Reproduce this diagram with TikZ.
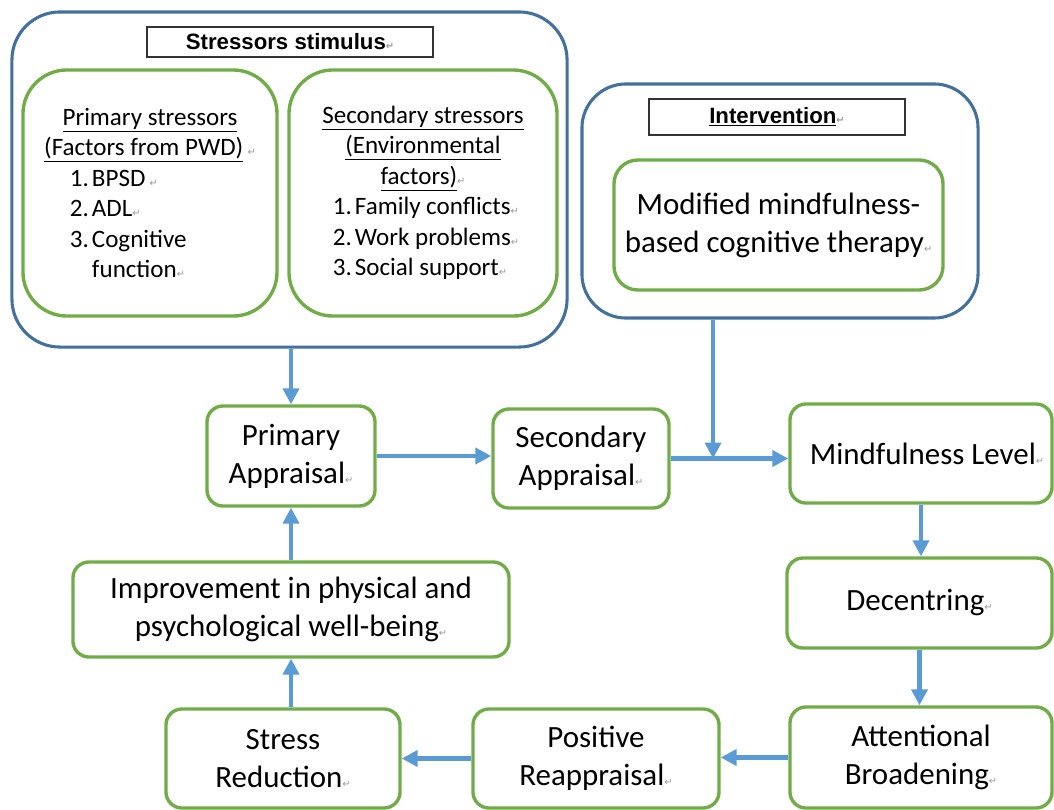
\documentclass[tikz,border=0pt]{standalone}
\usepackage{fontspec}
\setmainfont{Carlito}
\newfontfamily\titlefont{Liberation Sans}
\newfontfamily\symfont{DejaVu Sans}
\usepackage{xcolor}
\usetikzlibrary{arrows.meta,positioning,calc}
\definecolor{grpline}{HTML}{41719C}
\definecolor{boxline}{HTML}{70AD47}
\definecolor{arrline}{HTML}{5B9BD5}
\newcommand{\ret}{{\symfont\fontsize{7}{7}\selectfont\color{gray!80}\symbol{"21B5}}}
\newcommand{\num}[1]{\makebox[0.55cm][l]{#1}}
\tikzset{
  mgroup/.style={draw=grpline,fill=white,line width=2.2pt,rounded corners=1.2cm,inner sep=0pt},
  mbox/.style={draw=boxline,fill=white,line width=2.4pt,rounded corners=0.4cm,align=center,inner sep=2pt},
  mtitle/.style={draw=black!80,fill=white,line width=0.9pt,inner sep=0pt,font=\titlefont\bfseries\fontsize{15.8}{18}\selectfont},
  mlist/.style={font=\fontsize{17.8}{21.7}\selectfont},
  marr/.style={-{Triangle[length=0.4cm,width=0.4cm]},line width=3.3pt,draw=arrline}
}

\begin{document}
\begin{tikzpicture}[x=0.025cm,y=-0.025cm,font=\fontsize{22}{27}\selectfont]
  \useasboundingbox (0,0) rectangle (1054,810);
  % stressors
  \node[mgroup,minimum width=13.875cm,minimum height=8.375cm] (stressgrp) at (289.5,179.5) {};
  \node[mtitle,minimum width=7.15cm,minimum height=0.75cm] (stresstitle) at (290,42) {Stressors stimulus\ret};
  \node[mbox,mlist,rounded corners=1.1cm,minimum width=6.35cm,minimum height=6.15cm] (primstr) at (150,193) {%
    \begin{minipage}{5.9cm}\centering
    \underline{Primary stressors}\\
    \underline{(Factors from PWD)}\,\ret\par
    \raggedright\leftskip=0.95cm
    \num{1.}BPSD\,\ret\\
    \num{2.}ADL\ret\\
    \num{3.}Cognitive\\
    \hspace*{0.55cm}function\ret
    \end{minipage}};
  \node[mbox,mlist,rounded corners=1.1cm,minimum width=6.7cm,minimum height=6.15cm] (secstr) at (423,193) {%
    \begin{minipage}{6.2cm}\centering
    \underline{Secondary stressors}\\
    \underline{(Environmental}\\
    \underline{factors)}\ret\par
    \raggedright\leftskip=0.85cm
    \num{1.}Family conflicts\ret\\
    \num{2.}Work problems\ret\\
    \num{3.}Social support\ret
    \end{minipage}};
  % intervention
  \node[mgroup,rounded corners=1.1cm,minimum width=9.9cm,minimum height=5.85cm] (intvgrp) at (780,201) {};
  \node[mtitle,minimum width=6.4cm,minimum height=0.9cm] (intvtitle) at (777,117) {\underline{Intervention}\ret};
  \node[mbox,rounded corners=0.6cm,minimum width=8.225cm,minimum height=3.25cm] (mbct) at (778.5,225) {Modified mindfulness-\\based cognitive therapy\ret};
  % flow
  \node[mbox,minimum width=4.2cm,minimum height=2.5cm] (primapp) at (291,456) {Primary\\Appraisal\ret};
  \node[mbox,minimum width=4.4cm,minimum height=2.475cm] (secapp) at (581,458.5) {Secondary\\Appraisal\ret};
  \node[mbox,minimum width=6.55cm,minimum height=2.475cm] (mindlvl) at (921,453.5) {\hspace*{0.3cm}Mindfulness Level\ret};
  \node[mbox,minimum width=6.625cm,minimum height=2.25cm] (decent) at (919.5,603) {Decentring\ret};
  \node[mbox,minimum width=6.55cm,minimum height=2.525cm] (attnbr) at (921,757.5) {Attentional\\Broadening\ret};
  \node[mbox,minimum width=6.15cm,minimum height=2.475cm] (posreap) at (596,758.5) {Positive\\Reappraisal\ret};
  \node[mbox,minimum width=5.85cm,minimum height=2.475cm] (stressred) at (283,758.5) {Stress\\Reduction\ret};
  \node[mbox,minimum width=10.9cm,minimum height=2.375cm] (wellbeing) at (291,609.5) {Improvement in physical and\\psychological well-being\ret};
  % arrows
  \coordinate (join) at ($(secapp.east)!0.36!(secapp.east -| mindlvl.west)$);
  \draw[marr] (primapp.north |- stressgrp.south) -- (primapp.north);
  \draw[marr] (primapp.east) -- (primapp.east -| secapp.west);
  \draw[marr] (secapp.east) -- (secapp.east -| mindlvl.west);
  \draw[marr] (join |- intvgrp.south) -- (join);
  \draw[marr] (mindlvl.south) -- (mindlvl.south |- decent.north);
  \draw[marr] (decent.south) -- (decent.south |- attnbr.north);
  \draw[marr] (attnbr.west) -- (attnbr.west -| posreap.east);
  \draw[marr] (posreap.west) -- (posreap.west -| stressred.east);
  \draw[marr] (wellbeing.south |- stressred.north) -- (wellbeing.south);
  \draw[marr] (wellbeing.north) -- (primapp.south);
\end{tikzpicture}
\end{document}
